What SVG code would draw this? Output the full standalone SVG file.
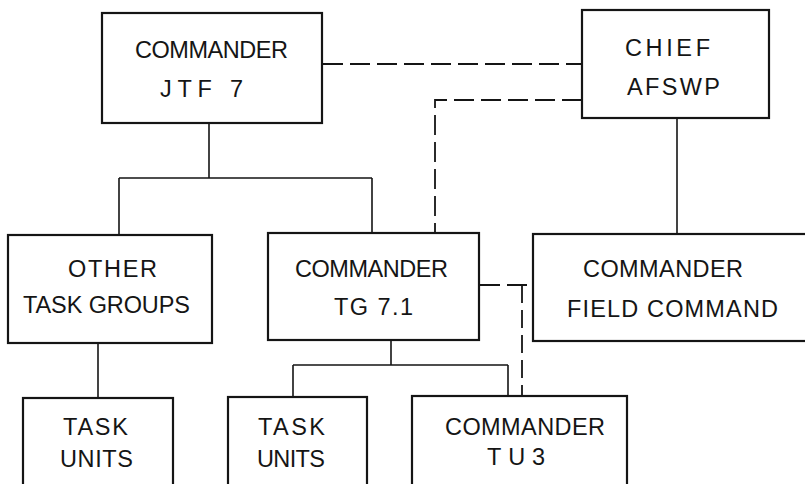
<svg xmlns="http://www.w3.org/2000/svg" width="805" height="484" viewBox="0 0 805 484">
<style>
.box{fill:none;stroke:#151515;stroke-width:2.2}
.ln{fill:none;stroke:#151515;stroke-width:1.6}
.dash{fill:none;stroke:#151515;stroke-width:1.8;stroke-dasharray:20 7}
text{font-family:"Liberation Sans",Arial,sans-serif;font-size:23.5px;fill:#151515}
</style>
<rect width="805" height="484" fill="#fff"/>
<g id="connectors">
<path class="dash" d="M323,64 H582"/>
<path class="dash" d="M582,100 H435 V234"/>
<path class="ln" d="M209,123 V178 M119,178 H372 M119,178 V235 M372,178 V233"/>
<path class="ln" d="M677,118 V234"/>
<path class="ln" d="M98,343 V398"/>
<path class="ln" d="M391,340 V365 M293,365 H508 M293,365 V397 M508,365 V396"/>
<path class="dash" d="M480,285 H533"/>
<path class="dash" style="stroke-dasharray:18 7" d="M522,285 V396"/>
</g>
<g id="jtf7">
<rect class="box" x="102" y="13" width="220" height="110"/>
<text x="135" y="58" textLength="153" lengthAdjust="spacing">COMMANDER</text>
<text x="160" y="97" textLength="83" lengthAdjust="spacing">JTF 7</text>
</g>
<g id="afswp">
<rect class="box" x="582" y="10" width="187" height="108"/>
<text x="625" y="56" textLength="85" lengthAdjust="spacing">CHIEF</text>
<text x="627" y="95" textLength="93" lengthAdjust="spacing">AFSWP</text>
</g>
<g id="other">
<rect class="box" x="8" y="235" width="204" height="108"/>
<text x="68" y="277" textLength="89" lengthAdjust="spacing">OTHER</text>
<text x="23" y="313" textLength="167" lengthAdjust="spacing">TASK GROUPS</text>
</g>
<g id="tg71">
<rect class="box" x="268" y="233" width="211" height="107"/>
<text x="295" y="277" textLength="153" lengthAdjust="spacing">COMMANDER</text>
<text x="334" y="315" textLength="79" lengthAdjust="spacing">TG 7.1</text>
</g>
<g id="field">
<rect class="box" x="533" y="234" width="280" height="107"/>
<text x="583" y="277" textLength="160" lengthAdjust="spacing">COMMANDER</text>
<text x="567" y="317" textLength="211" lengthAdjust="spacing">FIELD COMMAND</text>
</g>
<g id="units1">
<rect class="box" x="23" y="398" width="150" height="100"/>
<text x="63" y="435" textLength="65" lengthAdjust="spacing">TASK</text>
<text x="60" y="467" textLength="73" lengthAdjust="spacing">UNITS</text>
</g>
<g id="units2">
<rect class="box" x="228" y="397" width="139" height="100"/>
<text x="258" y="435" textLength="67" lengthAdjust="spacing">TASK</text>
<text x="257" y="467" textLength="68" lengthAdjust="spacing">UNITS</text>
</g>
<g id="tu3">
<rect class="box" x="412" y="396" width="215" height="100"/>
<text x="445" y="435" textLength="160" lengthAdjust="spacing">COMMANDER</text>
<text x="487" y="465" textLength="58" lengthAdjust="spacing">TU3</text>
</g>
</svg>
